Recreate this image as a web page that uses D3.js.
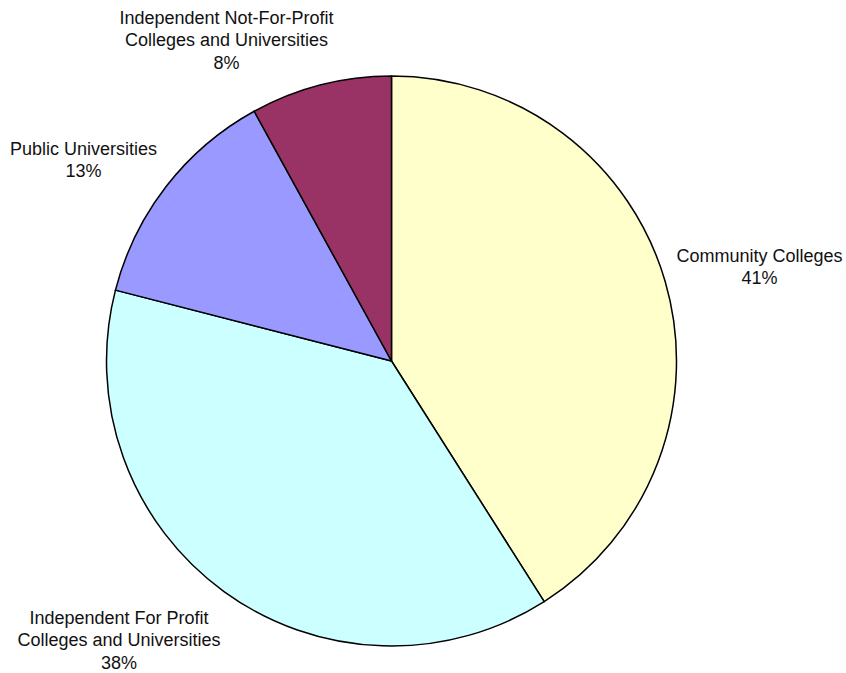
<!DOCTYPE html>
<html>
<head>
<meta charset="utf-8">
<script src="https://cdn.jsdelivr.net/npm/d3@7"></script>
<style>
  html, body { margin: 0; padding: 0; background: #fff; }
  svg { display: block; }
  text { font-family: "Liberation Sans", Arial, sans-serif; font-size: 18px; fill: #111; }
</style>
</head>
<body>
<svg id="chart" width="846" height="673"></svg>
<script>
// Share of enrolment by institution type (percent)
const categories = [
  "Community Colleges",
  "Independent For Profit Colleges and Universities",
  "Public Universities",
  "Independent Not-For-Profit Colleges and Universities"
];
const values = [41, 38, 13, 8];
const colors = ["#FFFFCC", "#CCFFFF", "#9999FF", "#993366"];

// label lines and anchor positions for each slice
const labelLines = [
  ["Community Colleges"],
  ["Independent For Profit", "Colleges and Universities"],
  ["Public Universities"],
  ["Independent Not-For-Profit", "Colleges and Universities"]
];
const labelPos = [[759.5, 261.5], [119, 623.5], [83.5, 154.5], [226.5, 23.5]];

const svg = d3.select("#chart");
const cx = 391.5, cy = 361, r = 285;

const data = categories.map((c, i) => ({ name: c, value: values[i], color: colors[i], i }));

const pie = d3.pie().value(d => d.value).sort(null);
const arc = d3.arc().innerRadius(0).outerRadius(r);

const g = svg.append("g").attr("transform", `translate(${cx},${cy})`);
g.selectAll("path")
  .data(pie(data))
  .join("path")
  .attr("d", arc)
  .attr("fill", d => d.data.color)
  .attr("stroke", "#000")
  .attr("stroke-width", 1.5)
  .attr("stroke-linejoin", "round");

const lineH = 22.5;
data.forEach((d, i) => {
  const lines = labelLines[i].concat([d.value + "%"]);
  const t = svg.append("text")
    .attr("text-anchor", "middle")
    .attr("x", labelPos[i][0])
    .attr("y", labelPos[i][1]);
  lines.forEach((ln, k) => {
    t.append("tspan")
      .attr("x", labelPos[i][0])
      .attr("dy", k === 0 ? 0 : lineH)
      .text(ln);
  });
});
</script>
</body>
</html>
